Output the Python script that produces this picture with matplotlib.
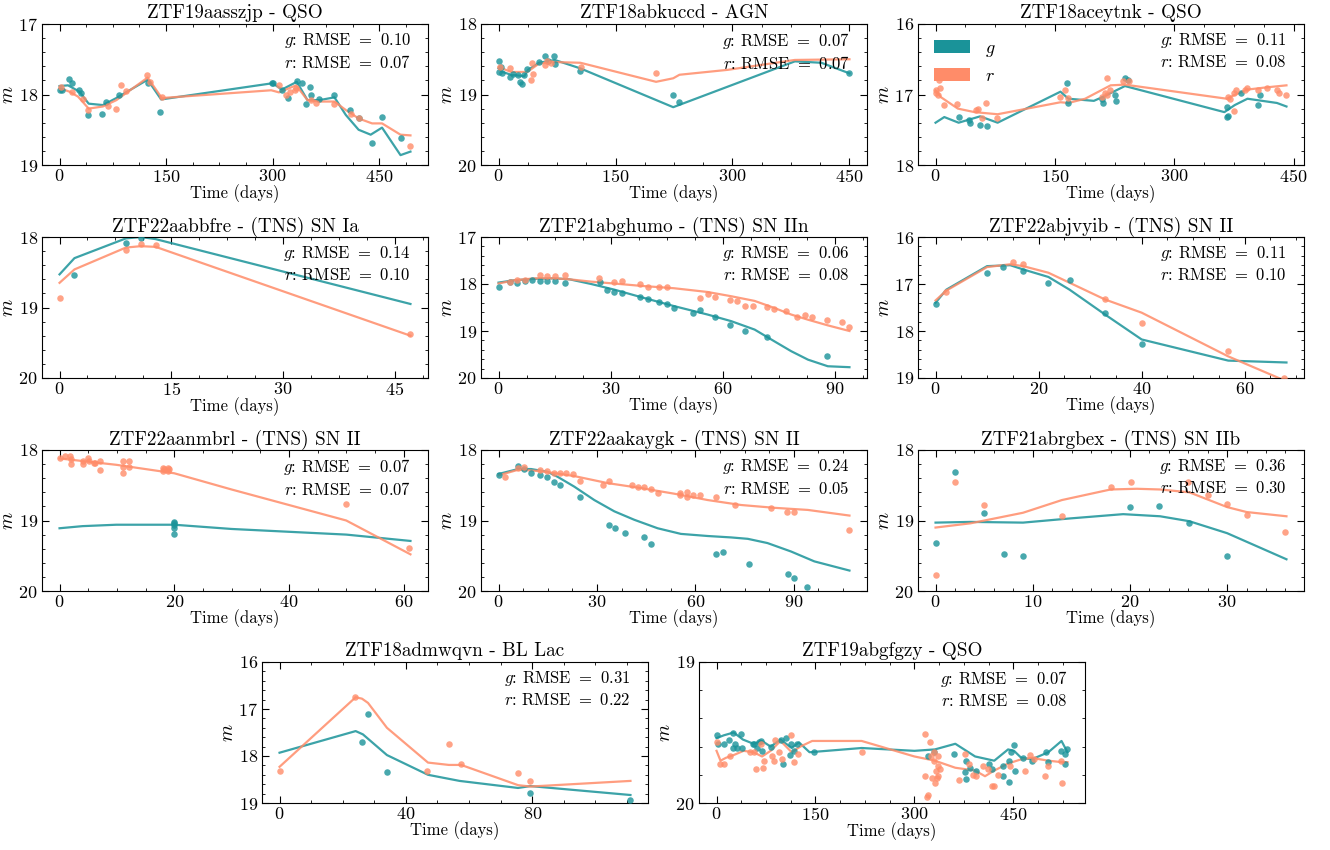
import numpy as np
import matplotlib
matplotlib.use("Agg")
import matplotlib.pyplot as plt
from matplotlib.patches import Patch

plt.rcParams['font.family'] = 'serif'
plt.rcParams['font.serif'] = ['cmr10']
plt.rcParams['mathtext.fontset'] = 'cm'
plt.rcParams['axes.formatter.use_mathtext'] = True

G_COL = '#1a9399'
R_COL = '#ff8c69'

# ---- data: (time [days], magnitude) pairs ----
# ZTF19aasszjp - QSO
aasszjp_g = [(0, 17.93), (4, 17.94), (13, 17.78), (18, 17.83), (27, 17.93), (30, 17.98), (40, 18.29),
             (60, 18.28), (65, 18.10), (84, 18.0), (124, 17.83), (141, 18.25), (299, 17.83), (300, 17.84),
             (313, 17.93), (322, 18.05), (334, 17.81), (341, 17.83), (347, 18.13), (352, 17.90), (354, 18.01),
             (365, 18.07), (387, 18.01), (409, 18.22), (421, 18.34), (440, 18.69), (454, 18.32), (480, 18.61)]
aasszjp_r = [(2, 17.9), (18, 17.96), (33, 18.07), (40, 18.22), (68, 18.17), (80, 18.2), (87, 17.87),
             (94, 17.95), (123, 17.72), (127, 17.82), (144, 18.03), (309, 17.87), (319, 18.01), (325, 17.96),
             (331, 17.93), (333, 17.91), (354, 18.08), (361, 18.12), (386, 18.13), (410, 18.27), (421, 18.34),
             (493, 18.73)]
aasszjp_gfit = [(0, 17.88), (12, 17.87), (28, 17.96), (41, 18.13), (61, 18.15), (80, 18.05), (124, 17.79),
                (143, 18.07), (300, 17.84), (313, 17.93), (334, 17.82), (349, 18.08), (366, 18.08), (387, 18.04),
                (403, 18.29), (421, 18.5), (438, 18.57), (454, 18.47), (480, 18.86), (494, 18.81)]
aasszjp_rfit = [(0, 17.91), (14, 17.96), (26, 18.03), (41, 18.2), (61, 18.17), (80, 18.08), (124, 17.76),
                (144, 18.05), (298, 17.94), (309, 17.97), (333, 17.87), (349, 18.08), (366, 18.1), (387, 18.1),
                (403, 18.22), (421, 18.34), (440, 18.41), (454, 18.41), (480, 18.57), (494, 18.58)]

# ZTF18abkuccd - AGN
abkuccd_g = [(0, 18.52), (0, 18.68), (3, 18.61), (5, 18.69), (15, 18.75), (18, 18.71), (25, 18.72), (28, 18.82),
             (30, 18.85), (33, 18.72), (37, 18.64), (52, 18.54), (59, 18.45), (64, 18.53), (71, 18.45),
             (73, 18.57), (105, 18.66), (224, 19.0), (232, 19.1), (450, 18.69)]
abkuccd_r = [(2, 18.61), (15, 18.63), (43, 18.55), (44, 18.71), (42, 18.79), (59, 18.58), (62, 18.53),
             (67, 18.56), (106, 18.61), (202, 18.7)]
abkuccd_gfit = [(0, 18.63), (5, 18.68), (16, 18.72), (33, 18.74), (38, 18.65), (52, 18.55), (72, 18.51),
                (105, 18.63), (224, 19.18), (380, 18.53), (414, 18.55), (450, 18.7)]
abkuccd_rfit = [(0, 18.61), (16, 18.68), (37, 18.68), (52, 18.56), (72, 18.54), (105, 18.55), (202, 18.82),
                (224, 18.77), (232, 18.72), (294, 18.65), (380, 18.51), (450, 18.5)]

# ZTF18aceytnk - QSO
aceytnk_g = [(29, 17.32), (42, 17.36), (43, 17.4), (56, 17.43), (65, 17.45), (165, 16.83), (167, 17.12),
             (209, 17.06), (210, 17.12), (225, 17.01), (227, 17.09), (238, 16.77), (242, 16.8), (366, 17.18),
             (366, 17.32), (367, 17.3), (384, 16.98), (405, 17.15), (408, 17.0)]
aceytnk_r = [(0, 16.93), (1, 16.98), (3, 17.01), (4, 16.79), (6, 16.91), (11, 17.15), (27, 17.13), (51, 17.22),
             (53, 17.2), (58, 17.34), (63, 17.12), (77, 17.34), (156, 17.03), (163, 16.93), (166, 17.05),
             (209, 17.04), (215, 17.01), (213, 16.98), (215, 16.76), (219, 16.94), (236, 16.81), (243, 16.81),
             (368, 17.03), (370, 17.06), (375, 17.24), (377, 16.93), (375, 16.98), (389, 16.93), (392, 16.91),
             (405, 16.93), (417, 16.91), (429, 16.93), (432, 16.98), (440, 17.0)]
aceytnk_gfit = [(0, 17.4), (11, 17.32), (29, 17.4), (56, 17.31), (78, 17.4), (157, 16.96), (167, 17.06),
                (199, 17.09), (213, 17.02), (238, 16.88), (363, 17.25), (376, 17.15), (392, 17.06),
                (429, 17.12), (441, 17.17)]
aceytnk_rfit = [(0, 16.94), (7, 17.04), (28, 17.2), (49, 17.25), (78, 17.28), (157, 17.11), (167, 17.12),
                (188, 17.06), (220, 16.87), (238, 16.86), (366, 17.06), (375, 17.01), (392, 16.93),
                (415, 16.9), (441, 16.87)]

# ZTF22aabbfre - (TNS) SN Ia
aabbfre_g = [(2, 18.54), (8.9, 18.09), (10.9, 18.02)]
aabbfre_r = [(0, 18.86), (8.9, 18.18), (10.9, 18.1), (12.9, 18.11), (47, 19.38)]
aabbfre_gfit = [(0, 18.53), (2, 18.3), (8.9, 18.02), (10.9, 18.0), (12.9, 18.03), (47.1, 18.95)]
aabbfre_rfit = [(0, 18.65), (2, 18.46), (8.9, 18.15), (10.9, 18.13), (12.9, 18.14), (47.1, 19.4)]

# ZTF21abghumo - (TNS) SN IIn
abghumo_g = [(0, 18.06), (3.1, 17.95), (5, 17.97), (7.1, 17.94), (8.9, 17.92), (11, 17.94), (12.9, 17.94),
             (15, 17.94), (17.9, 17.97), (27.2, 17.96), (29, 18.12), (31, 18.17), (33, 18.19), (38, 18.28),
             (40, 18.31), (43.1, 18.38), (45.1, 18.42), (47, 18.51), (52, 18.61), (54, 18.56), (58, 18.71),
             (62, 18.88), (66, 19.0), (72, 19.13), (88, 19.54)]
abghumo_r = [(3.1, 17.95), (5, 17.92), (7.1, 17.92), (11, 17.81), (13, 17.83), (15, 17.83), (17.9, 17.8),
             (27, 17.88), (31, 17.95), (33, 17.94), (38, 17.99), (40, 18.07), (43, 18.06), (45.1, 18.07),
             (54, 18.29), (56, 18.22), (58.1, 18.27), (62, 18.34), (64, 18.36), (66, 18.46), (68.1, 18.46),
             (72, 18.49), (73.9, 18.54), (77, 18.58), (80, 18.7), (82, 18.66), (83.9, 18.7), (88, 18.77),
             (92, 18.81), (94, 18.91)]
abghumo_gfit = [(0, 17.97), (4.3, 17.92), (9.6, 17.89), (15, 17.88), (19, 17.9), (24.8, 18.0), (31, 18.12),
                (38.2, 18.28), (47, 18.47), (56, 18.65), (62.3, 18.79), (68.6, 18.97), (73.9, 19.22),
                (78.4, 19.43), (82.9, 19.61), (88.2, 19.75), (94, 19.77)]
abghumo_rfit = [(0, 17.99), (4.3, 17.92), (9.6, 17.88), (15, 17.88), (19, 17.9), (24.8, 17.95), (31, 17.99),
                (38.2, 18.04), (47, 18.09), (56, 18.17), (62.3, 18.26), (68.6, 18.36), (73.9, 18.51),
                (78.4, 18.65), (82.9, 18.76), (88.2, 18.88), (94, 19.0)]

# ZTF22abjvyib - (TNS) SN II
abjvyib_g = [(0, 17.42), (10, 16.77), (13, 16.64), (17, 16.72), (21.9, 16.97), (26, 16.92), (32.9, 17.62),
             (40, 18.27)]
abjvyib_r = [(2.1, 17.17), (15, 16.53), (17, 16.57), (32.9, 17.31), (40, 17.83), (56.8, 18.43), (67.7, 18.99)]
abjvyib_gfit = [(0, 17.4), (2.1, 17.12), (10, 16.62), (14.5, 16.6), (17, 16.69), (21.9, 16.85), (26, 17.12),
                (32.9, 17.65), (40, 18.18), (56.8, 18.63), (68.1, 18.67)]
abjvyib_rfit = [(0, 17.35), (2.1, 17.14), (10, 16.64), (14.5, 16.58), (17, 16.62), (21.9, 16.76),
                (32.9, 17.33), (40, 17.61), (56.8, 18.54), (68.1, 19.07)]

# ZTF22aanmbrl - (TNS) SN II
aanmbrl_g = [(20, 19.02), (20, 19.04), (20, 19.06), (20, 19.1), (20, 19.19)]
aanmbrl_r = [(0, 18.11), (1, 18.08), (1.9, 18.09), (2, 18.13), (2, 18.2), (4.1, 18.16), (4.1, 18.2), (5, 18.11),
             (5.1, 18.16), (6, 18.18), (6.2, 18.19), (7, 18.15), (7, 18.28), (11, 18.15), (11, 18.24),
             (11, 18.32), (12.1, 18.15), (12.1, 18.24), (18, 18.25), (18, 18.3), (18.3, 18.27), (19, 18.25),
             (19, 18.3), (19.1, 18.27), (50, 18.77), (61, 19.39)]
aanmbrl_gfit = [(0, 19.11), (4, 19.08), (9.9, 19.06), (20, 19.06), (30, 19.12), (40, 19.16), (50, 19.2),
                (61.2, 19.29)]
aanmbrl_rfit = [(0, 18.12), (9.9, 18.21), (20, 18.33), (30, 18.56), (40, 18.78), (50, 19.0), (61.2, 19.48)]

# ZTF22aakaygk - (TNS) SN II
aakaygk_g = [(0, 18.36), (6, 18.23), (7.8, 18.27), (9.9, 18.33), (12.7, 18.36), (14.7, 18.39), (16.8, 18.45),
             (18.8, 18.49), (24.8, 18.67), (33.8, 19.06), (35.6, 19.1), (38.5, 19.18), (44.4, 19.23),
             (46.5, 19.34), (66.3, 19.48), (68.3, 19.44), (76.3, 19.62), (88.2, 19.76), (90.2, 19.82),
             (94, 19.94)]
aakaygk_r = [(1.9, 18.38), (6, 18.26), (7.8, 18.24), (12.7, 18.29), (14.7, 18.3), (16.8, 18.32), (18.7, 18.32),
             (20.7, 18.33), (22.8, 18.34), (24.8, 18.44), (31.7, 18.49), (33.8, 18.44), (40.6, 18.5),
             (42.6, 18.52), (44.4, 18.53), (46.5, 18.56), (48.5, 18.61), (55.3, 18.64), (55.4, 18.61),
             (57.4, 18.59), (57.4, 18.67), (59.4, 18.64), (61.4, 18.64), (66.3, 18.67), (72.2, 18.78),
             (83.1, 18.82), (88, 18.88), (90.2, 18.88), (107, 19.14)]
aakaygk_gfit = [(0, 18.34), (6, 18.27), (9.9, 18.27), (15, 18.31), (18, 18.38), (23.1, 18.52), (29.2, 18.71),
                (35.3, 18.87), (41.4, 18.99), (48.5, 19.11), (55.6, 19.19), (63.8, 19.22), (70.9, 19.24),
                (76, 19.26), (82, 19.32), (89.2, 19.44), (96.3, 19.58), (107, 19.71)]
aakaygk_rfit = [(0, 18.36), (6, 18.28), (12.9, 18.3), (23.1, 18.37), (33.3, 18.47), (43.4, 18.54),
                (53.6, 18.62), (63.8, 18.71), (73.9, 18.78), (84.1, 18.82), (94.3, 18.85), (107, 18.93)]

# ZTF21abrgbex - (TNS) SN IIb
abrgbex_g = [(0, 19.32), (2.05, 18.31), (5, 18.9), (7, 19.47), (9, 19.51), (20, 18.81), (23, 18.79),
             (26.1, 19.04), (30, 19.5)]
abrgbex_r = [(0, 19.77), (2.05, 18.46), (5, 18.78), (13, 18.94), (18, 18.53), (20.1, 18.45), (26, 18.46),
             (28, 18.64), (30, 18.76), (32, 18.92), (35.9, 19.16)]
abrgbex_gfit = [(0, 19.03), (3.6, 19.02), (9, 19.03), (13.9, 18.97), (19.3, 18.91), (23.1, 18.94),
                (26.1, 19.01), (30, 19.18), (36.1, 19.55)]
abrgbex_rfit = [(0, 19.1), (3.6, 19.04), (9, 18.89), (13, 18.71), (18, 18.56), (20.7, 18.55), (23.1, 18.56),
                (26.1, 18.6), (30, 18.81), (32, 18.88), (36.1, 18.94)]

# ZTF18admwqvn - BL Lac
admwqvn_g = [(26.1, 17.71), (28, 17.1), (34, 18.35), (79.4, 18.79), (111.1, 18.93)]
admwqvn_r = [(0, 18.31), (24, 16.75), (46.8, 18.31), (53.6, 17.74), (57.5, 18.16), (75.5, 18.36), (79.4, 18.54)]
admwqvn_gfit = [(0, 17.93), (24.1, 17.47), (26.4, 17.54), (34, 17.98), (47, 18.4), (57, 18.53), (75.5, 18.68),
                (79.4, 18.64), (111.1, 18.83)]
admwqvn_rfit = [(0, 18.23), (24.1, 16.75), (26.1, 16.78), (28, 16.87), (34, 17.4), (47, 18.14), (53.6, 18.19),
                (57.5, 18.19), (75.5, 18.62), (79.4, 18.65), (111.1, 18.53)]

# ZTF19abgfgzy - QSO
abgfgzy_g = [(0, 19.52), (2, 19.58), (11, 19.58), (19, 19.55), (25, 19.5), (28, 19.58), (25, 19.61), (31, 19.61),
             (37, 19.51), (38, 19.61), (56, 19.58), (57, 19.58), (61, 19.61), (64, 19.57), (68, 19.56),
             (69, 19.63), (82, 19.6), (98, 19.55), (101, 19.72), (106, 19.54), (112, 19.66), (113, 19.58),
             (118, 19.63), (122, 19.58), (147, 19.64), (320, 19.67), (329, 19.64), (360, 19.65), (378, 19.7),
             (377, 19.78), (378, 19.83), (385, 19.75), (393, 19.77), (413, 19.72), (417, 19.76), (435, 19.74),
             (435, 19.81), (443, 19.85), (443, 19.7), (446, 19.64), (451, 19.59), (452, 19.77), (464, 19.68),
             (478, 19.7), (499, 19.64), (502, 19.71), (522, 19.63), (528, 19.65), (529, 19.72), (531, 19.62)]
abgfgzy_r = [(0, 19.57), (5, 19.72), (11, 19.72), (21, 19.67), (50, 19.64), (57, 19.64), (60, 19.76), (70, 19.75),
             (67, 19.58), (72, 19.7), (84, 19.67), (87, 19.7), (88, 19.55), (95, 19.64), (99, 19.69),
             (113, 19.52), (117, 19.71), (124, 19.65), (220, 19.64), (316, 19.51), (316, 19.81), (319, 19.96),
             (321, 19.94), (324, 19.57), (325, 19.67), (327, 19.82), (329, 19.64), (330, 19.7), (332, 19.77),
             (334, 19.82), (335, 19.74), (336, 19.67), (339, 19.76), (331, 19.86), (336, 19.81), (368, 19.84),
             (377, 19.65), (382, 19.72), (389, 19.8), (394, 19.81), (404, 19.74), (412, 19.76), (417, 19.88),
             (420, 19.88), (426, 19.8), (445, 19.74), (467, 19.77), (475, 19.66), (482, 19.69), (498, 19.81),
             (502, 19.74), (522, 19.7), (523, 19.86)]
abgfgzy_gfit = [(0, 19.54), (11, 19.52), (26, 19.5), (40, 19.55), (56, 19.58), (69, 19.56), (82, 19.6),
                (97, 19.55), (114, 19.61), (125, 19.57), (141, 19.64), (220, 19.61), (300, 19.63), (331, 19.62),
                (362, 19.58), (392, 19.67), (421, 19.7), (442, 19.62), (451, 19.63), (462, 19.68), (478, 19.69),
                (503, 19.64), (523, 19.56), (532, 19.64)]
abgfgzy_rfit = [(0, 19.63), (6, 19.7), (14, 19.68), (26, 19.66), (41, 19.63), (56, 19.64), (69, 19.67),
                (82, 19.63), (97, 19.56), (114, 19.64), (127, 19.6), (145, 19.56), (220, 19.56), (300, 19.67),
                (331, 19.7), (362, 19.75), (392, 19.77), (407, 19.81), (421, 19.77), (442, 19.72), (462, 19.69),
                (478, 19.68), (503, 19.7), (523, 19.71), (532, 19.71)]

titles = ['ZTF19aasszjp - QSO', 'ZTF18abkuccd - AGN', 'ZTF18aceytnk - QSO',
          'ZTF22aabbfre - (TNS) SN Ia', 'ZTF21abghumo - (TNS) SN IIn', 'ZTF22abjvyib - (TNS) SN II',
          'ZTF22aanmbrl - (TNS) SN II', 'ZTF22aakaygk - (TNS) SN II', 'ZTF21abrgbex - (TNS) SN IIb',
          'ZTF18admwqvn - BL Lac', 'ZTF19abgfgzy - QSO']
rmse_g = [0.10, 0.07, 0.11, 0.14, 0.06, 0.11, 0.07, 0.24, 0.36, 0.31, 0.07]
rmse_r = [0.07, 0.07, 0.08, 0.10, 0.08, 0.10, 0.07, 0.05, 0.30, 0.22, 0.08]
ylims = [(17, 19), (18, 20), (16, 18), (18, 20), (17, 20), (16, 19), (18, 20), (18, 20), (18, 20), (16, 19), (19, 20)]
xticks = [[0, 150, 300, 450], [0, 150, 300, 450], [0, 150, 300, 450], [0, 15, 30, 45], [0, 30, 60, 90],
          [0, 20, 40, 60], [0, 20, 40, 60], [0, 30, 60, 90], [0, 10, 20, 30], [0, 40, 80], [0, 150, 300, 450]]

series = [(aasszjp_g, aasszjp_r, aasszjp_gfit, aasszjp_rfit),
          (abkuccd_g, abkuccd_r, abkuccd_gfit, abkuccd_rfit),
          (aceytnk_g, aceytnk_r, aceytnk_gfit, aceytnk_rfit),
          (aabbfre_g, aabbfre_r, aabbfre_gfit, aabbfre_rfit),
          (abghumo_g, abghumo_r, abghumo_gfit, abghumo_rfit),
          (abjvyib_g, abjvyib_r, abjvyib_gfit, abjvyib_rfit),
          (aanmbrl_g, aanmbrl_r, aanmbrl_gfit, aanmbrl_rfit),
          (aakaygk_g, aakaygk_r, aakaygk_gfit, aakaygk_rfit),
          (abrgbex_g, abrgbex_r, abrgbex_gfit, abrgbex_rfit),
          (admwqvn_g, admwqvn_r, admwqvn_gfit, admwqvn_rfit),
          (abgfgzy_g, abgfgzy_r, abgfgzy_gfit, abgfgzy_rfit)]

# axes placement in pixels (left, top) for a 1330x850 canvas
W, H = 1330, 850
AW, AH = 386, 141
positions = [(42, 24), (481, 24), (918, 24),
             (42, 237), (481, 237), (918, 237),
             (42, 450), (481, 450), (918, 450),
             (262, 662), (699, 662)]

fig = plt.figure(figsize=(13.3, 8.5), dpi=100)

for i, (left, top) in enumerate(positions):
    ax = fig.add_axes([left / W, 1 - (top + AH) / H, AW / W, AH / H])
    g, r, gfit, rfit = [np.array(s) for s in series[i]]

    ax.plot(gfit[:, 0], gfit[:, 1], color=G_COL, lw=1.6, alpha=0.85)
    ax.plot(rfit[:, 0], rfit[:, 1], color=R_COL, lw=1.6, alpha=0.85)
    ax.scatter(g[:, 0], g[:, 1], s=22, color=G_COL, alpha=0.8, lw=0, zorder=3)
    ax.scatter(r[:, 0], r[:, 1], s=22, color=R_COL, alpha=0.8, lw=0, zorder=3)

    lo, hi = ylims[i]
    ax.set_ylim(hi, lo)
    ax.set_yticks(np.arange(lo, hi + 1))
    ax.set_xticks(xticks[i])
    ax.minorticks_on()
    ax.tick_params(which='both', direction='in', top=True, right=True, labelsize=13, pad=3)
    ax.tick_params(axis='x', which='both', pad=2)
    ax.tick_params(which='major', length=5)
    ax.tick_params(which='minor', length=2.5)

    ax.set_title(titles[i], fontsize=13.8, pad=4)
    ax.set_xlabel('Time (days)', fontsize=12, labelpad=0)
    ax.set_ylabel('$m$', fontsize=14, labelpad=1)
    ax.text(0.955, 0.95, '$g$: RMSE $=$ %.2f\n$r$: RMSE $=$ %.2f' % (rmse_g[i], rmse_r[i]),
            transform=ax.transAxes, ha='right', va='top', fontsize=12, linespacing=1.3)

    if i == 2:
        handles = [Patch(facecolor=G_COL, label='$g$'), Patch(facecolor=R_COL, label='$r$')]
        ax.legend(handles=handles, loc='upper left', frameon=False, fontsize=13)

fig.savefig('out.png', dpi=100)
